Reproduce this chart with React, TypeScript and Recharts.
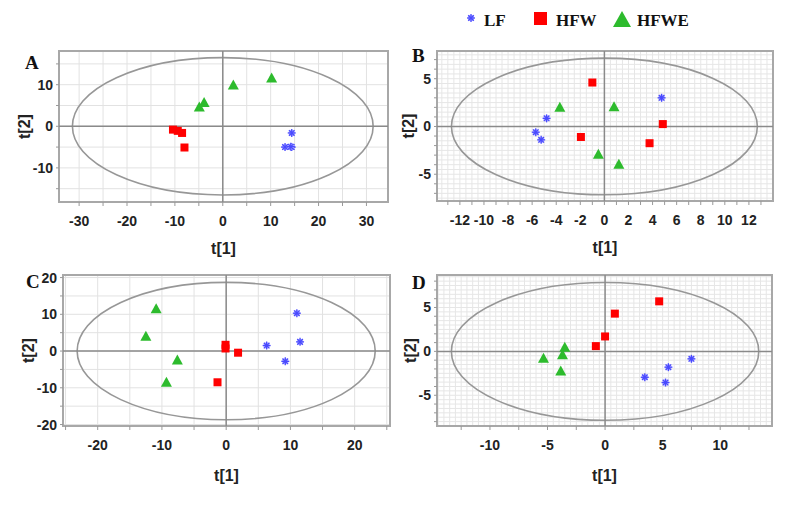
// PCA score plots (A-D) - four scatter panels with Hotelling ellipse
import React from "react";
import {
  ScatterChart,
  Scatter,
  XAxis,
  YAxis,
  CartesianGrid,
  ReferenceLine,
  ReferenceArea,
} from "recharts";

type Pt = { x: number; y: number };

// Panel A
const aLF: Pt[] = [
  { x: 14.4, y: -1.6 },
  { x: 13.0, y: -5.0 },
  { x: 14.4, y: -5.0 },
  { x: 14.2, y: -4.9 },
];
const aHFW: Pt[] = [
  { x: -10.4, y: -0.8 },
  { x: -9.4, y: -1.1 },
  { x: -8.5, y: -1.6 },
  { x: -8.0, y: -5.1 },
];
const aHFWE: Pt[] = [
  { x: -4.9, y: 4.5 },
  { x: -3.9, y: 5.6 },
  { x: 2.2, y: 9.8 },
  { x: 10.2, y: 11.5 },
];

// Panel B
const bLF: Pt[] = [
  { x: -5.7, y: -0.6 },
  { x: -5.25, y: -1.4 },
  { x: -4.8, y: 0.85 },
  { x: 4.75, y: 3.0 },
];
const bHFW: Pt[] = [
  { x: -1.0, y: 4.6 },
  { x: -1.95, y: -1.1 },
  { x: 3.75, y: -1.75 },
  { x: 4.85, y: 0.25 },
];
const bHFWE: Pt[] = [
  { x: -3.7, y: 1.95 },
  { x: 0.8, y: 2.0 },
  { x: -0.5, y: -2.95 },
  { x: 1.2, y: -4.0 },
];

// Panel C
const cLF: Pt[] = [
  { x: 11.0, y: 10.3 },
  { x: 11.5, y: 2.5 },
  { x: 6.3, y: 1.5 },
  { x: 9.2, y: -2.8 },
];
const cHFW: Pt[] = [
  { x: -0.1, y: 1.7 },
  { x: -0.1, y: 0.7 },
  { x: 1.85, y: -0.45 },
  { x: -1.35, y: -8.5 },
];
const cHFWE: Pt[] = [
  { x: -10.9, y: 11.4 },
  { x: -12.5, y: 3.9 },
  { x: -7.6, y: -2.6 },
  { x: -9.3, y: -8.6 },
];

// Panel D
const dLF: Pt[] = [
  { x: 3.45, y: -2.95 },
  { x: 5.5, y: -1.8 },
  { x: 7.5, y: -0.85 },
  { x: 5.25, y: -3.55 },
];
const dHFW: Pt[] = [
  { x: -0.8, y: 0.6 },
  { x: 0.0, y: 1.7 },
  { x: 0.85, y: 4.3 },
  { x: 4.7, y: 5.7 },
];
const dHFWE: Pt[] = [
  { x: -5.35, y: -0.85 },
  { x: -3.7, y: -0.45 },
  { x: -3.5, y: 0.4 },
  { x: -3.85, y: -2.3 },
];

// labelled ticks
const aXLabels = [-30, -20, -10, 0, 10, 20, 30];
const aYLabels = [-10, 0, 10];
const bXLabels = [-12, -10, -8, -6, -4, -2, 0, 2, 4, 6, 8, 10, 12];
const bYLabels = [-5, 0, 5];
const cXLabels = [-20, -10, 0, 10, 20];
const cYLabels = [-20, -10, 0, 10, 20];
const dXLabels = [-10, -5, 0, 5, 10];
const dYLabels = [-5, 0, 5];

const range = (a: number, b: number, s: number) => {
  const out: number[] = [];
  for (let v = a; v <= b + 1e-9; v += s) out.push(+v.toFixed(2));
  return out;
};

const BLUE = "#4a4aff";
const RED = "#ff0000";
const GREEN = "#2dbb2d";

const StarShape = (p: any) => {
  const { cx, cy } = p;
  const r = 4;
  const d = r * 0.7;
  return (
    <g stroke={BLUE} strokeWidth={1.3}>
      <circle cx={cx} cy={cy} r={3.2} fill="#b9b9ff" stroke="none" />
      <line x1={cx - r} y1={cy} x2={cx + r} y2={cy} />
      <line x1={cx} y1={cy - r} x2={cx} y2={cy + r} />
      <line x1={cx - d} y1={cy - d} x2={cx + d} y2={cy + d} />
      <line x1={cx - d} y1={cy + d} x2={cx + d} y2={cy - d} />
    </g>
  );
};

const SquareShape = (p: any) => (
  <rect x={p.cx - 4} y={p.cy - 4} width={8} height={8} fill={RED} />
);

const TriShape = (p: any) => (
  <polygon
    points={`${p.cx},${p.cy - 6} ${p.cx - 5.5},${p.cy + 4} ${p.cx + 5.5},${p.cy + 4}`}
    fill={GREEN}
  />
);

const TICK = {
  fontFamily: "Arial, 'Liberation Sans', sans-serif",
  fontWeight: 700,
  fontSize: 14,
  fill: "#222",
};

const TITLE = {
  fontFamily: "Arial, 'Liberation Sans', sans-serif",
  fontWeight: 700,
  fontSize: 16,
  fill: "#222",
  textAnchor: "middle" as const,
};

interface PanelProps {
  left: number;
  top: number;
  height: number;
  margin: { top: number; right: number; bottom: number; left: number };
  xDomain: [number, number];
  yDomain: [number, number];
  xTicks: number[];
  yTicks: number[];
  xLabels: number[];
  yLabels: number[];
  gridX: number[];
  gridY: number[];
  gridColor: string;
  ellipse: { rx: number; ry: number };
  xTitleOffset: number;
  yTitleOffset: number;
  lf: Pt[];
  hfw: Pt[];
  hfwe: Pt[];
}

const Panel: React.FC<PanelProps> = (p) => (
  <div style={{ position: "absolute", left: p.left, top: p.top }}>
    <ScatterChart width={400} height={p.height} margin={p.margin}>
      <CartesianGrid
        stroke={p.gridColor}
        verticalValues={p.gridX}
        horizontalValues={p.gridY}
      />
      <XAxis
        type="number"
        dataKey="x"
        domain={p.xDomain}
        ticks={p.xTicks}
        interval={0}
        allowDataOverflow
        tickFormatter={(v: number) => (p.xLabels.includes(v) ? String(v) : "")}
        tick={TICK}
        tickSize={4}
        tickMargin={10}
        tickLine={{ stroke: "#999" }}
        axisLine={false}
        height={55}
        label={{
          value: "t[1]",
          position: "insideBottom",
          offset: p.xTitleOffset,
          style: TITLE,
        }}
      />
      <YAxis
        type="number"
        dataKey="y"
        domain={p.yDomain}
        ticks={p.yTicks}
        interval={0}
        allowDataOverflow
        tickFormatter={(v: number) => (p.yLabels.includes(v) ? String(v) : "")}
        tick={TICK}
        tickSize={3}
        tickMargin={3}
        tickLine={{ stroke: "#999" }}
        axisLine={false}
        width={30}
        label={{
          value: "t[2]",
          angle: -90,
          position: "insideLeft",
          offset: p.yTitleOffset,
          style: TITLE,
        }}
      />
      <ReferenceLine x={0} stroke="#8a8a8a" strokeWidth={1.5} />
      <ReferenceLine y={0} stroke="#8a8a8a" strokeWidth={1.5} />
      <ReferenceArea
        x1={-p.ellipse.rx}
        x2={p.ellipse.rx}
        y1={-p.ellipse.ry}
        y2={p.ellipse.ry}
        ifOverflow="visible"
        shape={(s: any) => (
          <ellipse
            cx={s.x + s.width / 2}
            cy={s.y + s.height / 2}
            rx={Math.abs(s.width) / 2}
            ry={Math.abs(s.height) / 2}
            fill="none"
            stroke="#979797"
            strokeWidth={1.6}
          />
        )}
      />
      <ReferenceArea
        x1={p.xDomain[0]}
        x2={p.xDomain[1]}
        y1={p.yDomain[0]}
        y2={p.yDomain[1]}
        ifOverflow="visible"
        fill="none"
        fillOpacity={0}
        stroke="#a8a8a8"
        strokeWidth={2}
      />
      <Scatter data={p.lf} shape={StarShape} isAnimationActive={false} />
      <Scatter data={p.hfw} shape={SquareShape} isAnimationActive={false} />
      <Scatter data={p.hfwe} shape={TriShape} isAnimationActive={false} />
    </ScatterChart>
  </div>
);

const LETTER = {
  fontFamily: "'Liberation Serif', 'Times New Roman', serif",
  fontWeight: 700,
  fontSize: 19,
  fill: "#111",
};

const LEGEND = {
  fontFamily: "'Liberation Serif', 'Times New Roman', serif",
  fontWeight: 700,
  fontSize: 17,
  fill: "#111",
};

export default function App() {
  return (
    <div
      style={{
        position: "absolute",
        left: 0,
        top: 0,
        width: 800,
        height: 505,
        background: "#fff",
        overflow: "hidden",
      }}
    >
      <Panel
        left={0}
        top={0}
        height={260}
        margin={{ top: 51, right: 12, bottom: 3, left: 29 }}
        xDomain={[-34.2, 34.5]}
        yDomain={[-18.2, 18.1]}
        xTicks={range(-30, 30, 5)}
        yTicks={range(-15, 15, 5)}
        xLabels={aXLabels}
        yLabels={aYLabels}
        gridX={range(-30, 30, 5)}
        gridY={range(-15, 15, 5)}
        gridColor="#e2e2e2"
        ellipse={{ rx: 31.4, ry: 16.5 }}
        xTitleOffset={3}
        yTitleOffset={-5}
        lf={aLF}
        hfw={aHFW}
        hfwe={aHFWE}
      />
      <Panel
        left={400}
        top={0}
        height={260}
        margin={{ top: 51, right: 27, bottom: 4, left: 7 }}
        xDomain={[-13.9, 14]}
        yDomain={[-7.8, 7.9]}
        xTicks={range(-13, 13, 1)}
        yTicks={range(-7, 7, 1)}
        xLabels={bXLabels}
        yLabels={bYLabels}
        gridX={range(-13.5, 13.5, 0.5)}
        gridY={range(-7.5, 7.5, 0.5)}
        gridColor="#e6e6e6"
        ellipse={{ rx: 12.7, ry: 7.15 }}
        xTitleOffset={3}
        yTitleOffset={1}
        lf={bLF}
        hfw={bHFW}
        hfwe={bHFWE}
      />
      <Panel
        left={0}
        top={250}
        height={255}
        margin={{ top: 25, right: 10, bottom: 24, left: 33 }}
        xDomain={[-25.4, 25.5]}
        yDomain={[-20.4, 20.7]}
        xTicks={range(-25, 25, 5)}
        yTicks={range(-20, 20, 5)}
        xLabels={cXLabels}
        yLabels={cYLabels}
        gridX={range(-25, 25, 5)}
        gridY={range(-20, 20, 5)}
        gridColor="#e2e2e2"
        ellipse={{ rx: 23.2, ry: 18.7 }}
        xTitleOffset={0}
        yTitleOffset={-5}
        lf={cLF}
        hfw={cHFW}
        hfwe={cHFWE}
      />
      <Panel
        left={400}
        top={250}
        height={255}
        margin={{ top: 25, right: 28, bottom: 24, left: 7 }}
        xDomain={[-14.6, 14.5]}
        yDomain={[-8.5, 8.7]}
        xTicks={range(-12.5, 12.5, 2.5)}
        yTicks={range(-8, 8, 1)}
        xLabels={dXLabels}
        yLabels={dYLabels}
        gridX={range(-14.5, 14.5, 0.5)}
        gridY={range(-8.5, 8.5, 0.5)}
        gridColor="#e6e6e6"
        ellipse={{ rx: 13.35, ry: 7.85 }}
        xTitleOffset={0}
        yTitleOffset={3}
        lf={dLF}
        hfw={dHFW}
        hfwe={dHFWE}
      />

      {/* panel letters and shared legend */}
      <svg
        width={800}
        height={505}
        style={{ position: "absolute", left: 0, top: 0, pointerEvents: "none" }}
      >
        <text x={25} y={69} style={LETTER}>A</text>
        <text x={412} y={62} style={LETTER}>B</text>
        <text x={26} y={288} style={LETTER}>C</text>
        <text x={412} y={289} style={LETTER}>D</text>

        <StarShape cx={471} cy={18} />
        <text x={484} y={26} style={LEGEND}>LF</text>
        <rect x={534} y={12} width={13} height={13} fill={RED} />
        <text x={556} y={26} style={LEGEND}>HFW</text>
        <polygon points="622,11 613,27 631,27" fill={GREEN} />
        <text x={637} y={26} style={LEGEND}>HFWE</text>
      </svg>
    </div>
  );
}
